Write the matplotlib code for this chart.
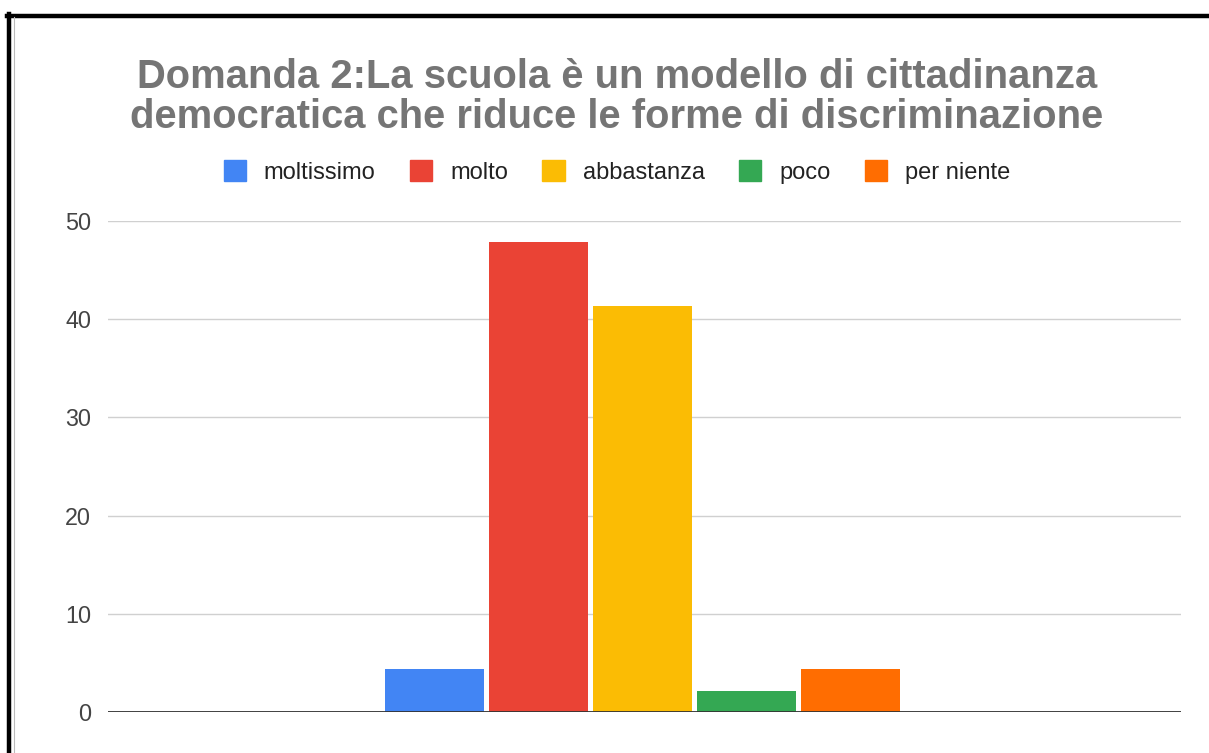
import matplotlib
matplotlib.use("Agg")
import matplotlib.pyplot as plt
from matplotlib.patches import Patch
from matplotlib.lines import Line2D

categories = ["moltissimo", "molto", "abbastanza", "poco", "per niente"]
values = [4.35, 47.83, 41.30, 2.17, 4.35]
colors = ["#4285f4", "#ea4335", "#fbbc04", "#34a853", "#ff6d01"]
yticks = [0, 10, 20, 30, 40, 50]
title = "Domanda 2:La scuola è un modello di cittadinanza\ndemocratica che riduce le forme di discriminazione"

plt.rcParams['font.family'] = ['Liberation Sans', 'DejaVu Sans']

W, H = 1209, 753
fig = plt.figure(figsize=(W / 100, H / 100), dpi=100)
fig.patch.set_facecolor("white")

ax = fig.add_axes([108 / W, 41 / H, (1181 - 108) / W, (712 - 221) / H])
x = list(range(len(categories)))
ax.bar(x, values, width=0.955, color=colors, zorder=3)
ax.set_xlim(-3.14, 7.18)
ax.set_ylim(0, 50)
ax.set_yticks(yticks)
ax.set_yticklabels([str(t) for t in yticks], fontsize=16.8, color="#444444")
ax.tick_params(axis="y", length=0, pad=12)
ax.set_xticks([])
ax.grid(axis="y", color="#d0d0d0", linewidth=1, zorder=0)
for s in ["top", "right", "left", "bottom"]:
    ax.spines[s].set_visible(False)
ax.axhline(0, color="#333333", linewidth=1.3, zorder=4)

fig.text(617 / W, 1 - 97 / H, title, ha="center", va="center",
         fontsize=28.8, fontweight="bold", color="#757575", linespacing=1.04)

handles = [Patch(facecolor=c, edgecolor=c) for c in colors]
fig.legend(handles, categories, loc="center", bbox_to_anchor=(617 / W, 1 - 172 / H),
           ncol=5, frameon=False, fontsize=17, handlelength=0.95, handleheight=0.95,
           handletextpad=0.76, columnspacing=1.45, labelcolor="#222222")

# frame lines of the screenshot
fig.add_artist(Line2D([7 / W, 1], [1 - 15.5 / H, 1 - 15.5 / H], color="black", linewidth=3.2,
                      transform=fig.transFigure))
fig.add_artist(Line2D([9 / W, 9 / W], [0, 1 - 14 / H], color="black", linewidth=3.2,
                      transform=fig.transFigure))
fig.add_artist(Line2D([13.5 / W, 13.5 / W], [0, 1 - 17 / H], color="#bbbbbb", linewidth=0.8,
                      transform=fig.transFigure))

fig.savefig("out.png", dpi=100, facecolor="white")
